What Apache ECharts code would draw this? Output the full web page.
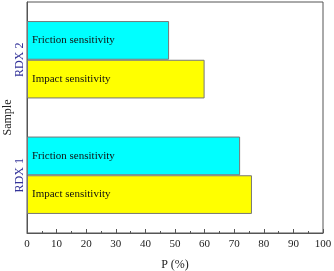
<!DOCTYPE html>
<html><head><meta charset="utf-8">
<script src="https://cdn.jsdelivr.net/npm/echarts@6/dist/echarts.min.js"></script>
<style>html,body{margin:0;padding:0;background:#fff}#c{width:334px;height:271px}</style>
</head><body><div id="c"></div>
<script>
const categories = ['RDX 1', 'RDX 2'];
const impactValues = [76, 60];
const frictionValues = [72, 48];
const seriesNames = ['Impact sensitivity', 'Friction sensitivity'];
const font = '"Liberation Serif", "Times New Roman", serif';
const chart = echarts.init(document.getElementById('c'), null, {renderer: 'canvas'});
const lbl = {show: true, position: 'insideLeft', distance: 5, formatter: p => p.seriesName, fontFamily: font, fontSize: 11, color: '#111'};
chart.setOption({
  animation: false,
  grid: {left: 27, right: 11, top: 2, bottom: 38, show: true, borderColor: '#555', borderWidth: 1, containLabel: false, outerBoundsMode: 'none'},
  xAxis: {
    type: 'value', min: 0, max: 100, interval: 10,
    name: 'P (%)', nameLocation: 'middle', nameGap: 26, nameMoveOverlap: false,
    nameTextStyle: {fontFamily: font, fontSize: 12, color: '#222'},
    axisLine: {show: true, lineStyle: {color: '#555'}},
    axisTick: {show: true, inside: true, length: 4, lineStyle: {color: '#555'}},
    minorTick: {show: true, splitNumber: 2, length: 2, lineStyle: {color: '#555'}},
    axisLabel: {fontFamily: font, fontSize: 11, color: '#222', margin: 6},
    splitLine: {show: false}
  },
  yAxis: {
    type: 'category', data: categories,
    name: 'Sample', nameLocation: 'middle', nameGap: 13, nameRotate: 90, nameMoveOverlap: false,
    nameTextStyle: {fontFamily: font, fontSize: 12, color: '#222'},
    axisLine: {show: true, lineStyle: {color: '#555'}},
    axisTick: {show: false},
    axisLabel: {rotate: 90, fontFamily: font, fontSize: 12, color: '#333399', margin: 1}
  },
  series: [
    {name: seriesNames[1], type: 'bar', data: frictionValues, barGap: '0%', barCategoryGap: '33%',
     itemStyle: {color: '#00ffff', borderColor: '#777', borderWidth: 1}, label: lbl},
    {name: seriesNames[0], type: 'bar', data: impactValues, barGap: '0%', barCategoryGap: '33%',
     itemStyle: {color: '#ffff00', borderColor: '#777', borderWidth: 1}, label: lbl}
  ]
});
</script></body></html>
